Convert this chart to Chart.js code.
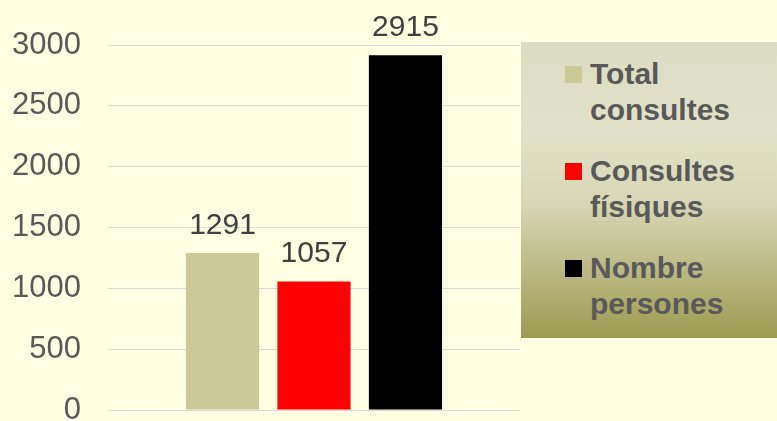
<!DOCTYPE html>
<html lang="ca">
<head>
    <meta charset="UTF-8">
    <title>Consultes</title>
    <script src="https://cdn.jsdelivr.net/npm/chart.js"></script>
    <style>
        html, body { margin: 0; padding: 0; background: #fefee3; }
        #wrap { position: relative; width: 777px; height: 421px; }
        #legend {
            position: absolute; left: 521px; top: 42px; width: 256px; height: 296px;
            background: linear-gradient(to bottom, #dcdcc3 0%, #e2e2ca 30%, #d7d6b4 55%, #9d9b52 100%);
            font-family: "Liberation Sans", Arial, sans-serif; font-weight: bold;
            font-size: 30px; line-height: 36px; color: #595959;
        }
        .item { position: absolute; left: 44px; width: 200px; }
        .box { position: absolute; left: 0; top: 10px; width: 17px; height: 17px; }
        .txt { position: absolute; left: 25px; width: 180px; }
    </style>
</head>
<body>
<div id="wrap">
    <canvas id="myChart" width="777" height="421"></canvas>
    <div id="legend"></div>
</div>
<script>
    const categories = [''];
    const seriesNames = ['Total consultes', 'Consultes físiques', 'Nombre persones'];
    const seriesValues = [[1291], [1057], [2915]];
    const seriesColors = ['#c9c896', '#ff0000', '#000000'];
    const yTicks = [0, 500, 1000, 1500, 2000, 2500, 3000];

    // values drawn above each bar
    const valueLabels = {
        id: 'valueLabels',
        afterDatasetsDraw(chart) {
            const ctx = chart.ctx;
            ctx.save();
            ctx.font = '30px "Liberation Sans", Arial, sans-serif';
            ctx.fillStyle = '#404040';
            ctx.textAlign = 'center';
            ctx.textBaseline = 'alphabetic';
            chart.data.datasets.forEach((ds, i) => {
                chart.getDatasetMeta(i).data.forEach((bar, j) => {
                    ctx.fillText(ds.data[j], bar.x, bar.y - 19);
                });
            });
            ctx.restore();
        }
    };

    const ctx = document.getElementById('myChart').getContext('2d');
    const chart = new Chart(ctx, {
        type: 'bar',
        data: {
            labels: categories,
            datasets: seriesNames.map((name, i) => ({
                label: name,
                data: seriesValues[i],
                backgroundColor: seriesColors[i],
                borderWidth: 0,
                categoryPercentage: 0.666,
                barPercentage: 0.8
            }))
        },
        options: {
            responsive: false,
            animation: false,
            layout: { padding: { left: 12, right: 257, top: 45, bottom: 11 } },
            plugins: { legend: { display: false }, tooltip: { enabled: false } },
            scales: {
                x: { display: false },
                y: {
                    min: 0,
                    max: 3000,
                    afterBuildTicks: scale => { scale.ticks = yTicks.map(v => ({ value: v })); },
                    border: { display: false },
                    grid: { color: '#d9d9d9', lineWidth: 1, drawTicks: true, tickLength: 27, tickColor: 'rgba(0,0,0,0)' },
                    ticks: {
                        padding: 0,
                        color: '#595959',
                        callback: v => String(v),
                        font: { family: '"Liberation Sans", Arial, sans-serif', size: 31, lineHeight: 0.7 }
                    }
                }
            }
        },
        plugins: [valueLabels]
    });

    // html legend built from the datasets
    const legend = document.getElementById('legend');
    chart.data.datasets.forEach((ds, i) => {
        const item = document.createElement('div');
        item.className = 'item';
        item.style.top = (14 + i * 97) + 'px';
        item.innerHTML = '<div class="box" style="background:' + ds.backgroundColor + '"></div>' +
            '<div class="txt">' + ds.label.replace(' ', '<br>') + '</div>';
        legend.appendChild(item);
    });
</script>
</body>
</html>
